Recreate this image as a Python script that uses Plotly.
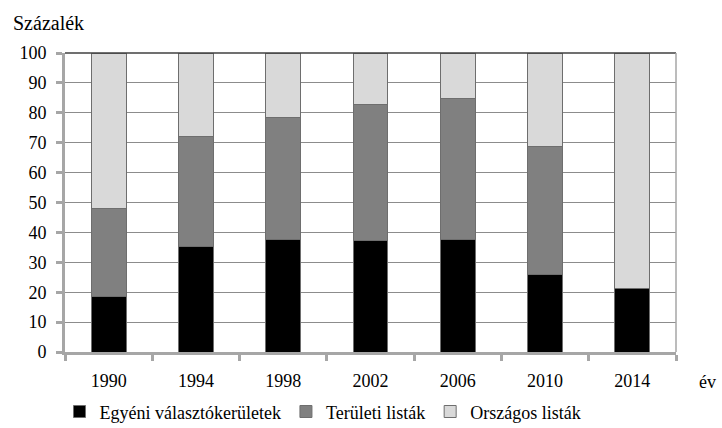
import plotly.graph_objects as go

years = ["1990", "1994", "1998", "2002", "2006", "2010", "2014"]
egyeni = [18.5, 35.2, 37.7, 37.2, 37.7, 25.8, 21.3]
teruleti = [29.5, 37.0, 40.6, 45.7, 47.2, 42.9, 0.0]
orszagos = [52.0, 27.8, 21.7, 17.1, 15.1, 31.3, 78.7]

series = [
    ("Egyéni választókerületek", egyeni, "#000000"),
    ("Területi listák", teruleti, "#808080"),
    ("Országos listák", orszagos, "#d9d9d9"),
]

FONT = "Liberation Serif"
FS = 18

fig = go.Figure()
for name, vals, col in series:
    fig.add_trace(go.Bar(
        x=years, y=vals, name=name,
        marker=dict(color=col, line=dict(color="#6e6e6e", width=1)),
    ))

fig.update_layout(
    width=722, height=428,
    margin=dict(l=65, r=46, t=53, b=76, autoexpand=False),
    barmode="stack", bargap=0.6,
    plot_bgcolor="white", paper_bgcolor="white",
    font=dict(family=FONT, size=FS, color="black"),
    showlegend=True,
    legend=dict(orientation="h", x=-0.009, xanchor="left", y=-0.2, yanchor="middle",
                font=dict(family=FONT, size=FS, color="black"),
                itemwidth=30, traceorder="normal"),
    xaxis=dict(
        type="category", showgrid=False, showline=True, linecolor="#a6a6a6", linewidth=3,
        ticks="outside", tickson="boundaries", ticklen=6, tickcolor="#a6a6a6", tickwidth=3,
        ticklabelstandoff=10, tickfont=dict(family=FONT, size=FS, color="black"),
    ),
    yaxis=dict(
        range=[0, 100], dtick=10, tick0=0, showgrid=True, gridcolor="#8c8c8c", gridwidth=1,
        showline=True, linecolor="#a6a6a6", linewidth=3, zeroline=False,
        ticks="outside", ticklen=6, tickcolor="#a6a6a6", tickwidth=3,
        ticklabelstandoff=6, tickfont=dict(family=FONT, size=FS, color="black"),
    ),
    shapes=[
        dict(type="line", xref="paper", yref="paper", x0=0, x1=1, y0=1, y1=1,
             line=dict(color="#404040", width=1.5)),
        dict(type="line", xref="paper", yref="paper", x0=1, x1=1, y0=0, y1=1,
             line=dict(color="#a6a6a6", width=1.5)),
    ],
    annotations=[
        dict(text="Százalék", xref="paper", yref="paper", x=-0.088, y=1.1,
             xanchor="left", yanchor="middle", showarrow=False,
             font=dict(family=FONT, size=20, color="black")),
        dict(text="év", xref="paper", yref="paper", x=1.034, y=-0.1,
             xanchor="left", yanchor="middle", showarrow=False,
             font=dict(family=FONT, size=FS, color="black")),
    ],
)

fig.write_html("out.html", config={"displayModeBar": False},
               post_script="document.body.style.margin='0';document.body.style.padding='0';")
